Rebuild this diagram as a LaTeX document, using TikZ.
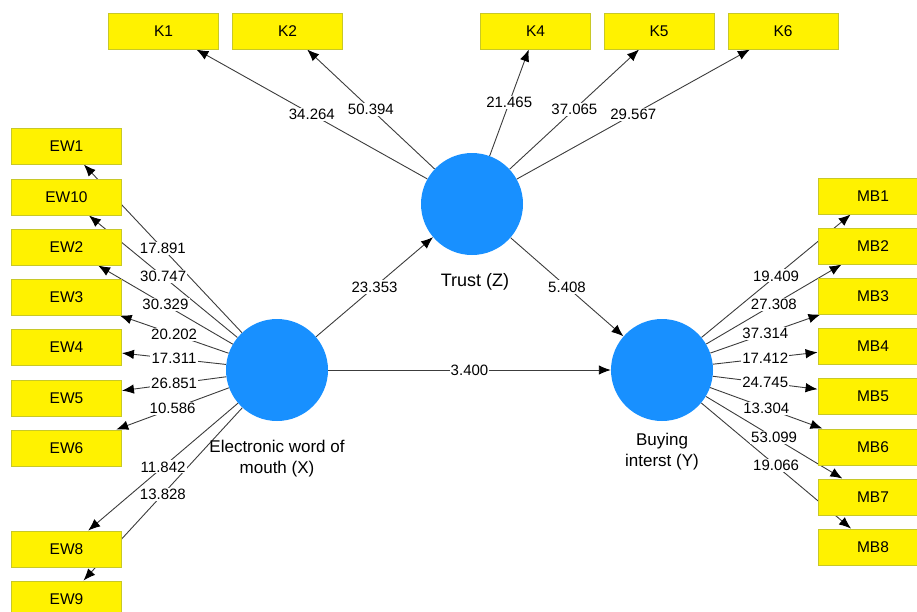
\documentclass[tikz,border=0pt]{standalone}
\usepackage{fontspec}
\setmainfont{Liberation Sans}
\usetikzlibrary{arrows.meta}
\pgfdeclarelayer{bg}
\pgfsetlayers{bg,main}
\definecolor{latent}{RGB}{24,144,255}
\definecolor{boxline}{RGB}{200,200,40}
\definecolor{edgeline}{RGB}{60,60,60}
\tikzset{
  indbox/.style={rectangle, draw=boxline, line width=0.9pt, fill=yellow, minimum width=110pt, minimum height=36pt, inner sep=0pt, font=\fontsize{15.5}{18}\selectfont},
  latentnode/.style={circle, fill=latent, minimum size=102pt, inner sep=0pt},
  lvlabel/.style={font=\fontsize{17}{21}\selectfont, align=center},
  arr/.style={draw=edgeline, line width=0.9pt, -{Latex[length=12pt,width=9.5pt,color=black]}},
  wlabel/.style={fill=white, inner sep=1.2pt, font=\fontsize{15}{18}\selectfont}
}
\newcommand\pathlink[3]{%
  \begin{pgfonlayer}{bg}\draw[arr] (#1) -- (#2);\end{pgfonlayer}
  \path (#1) -- node[wlabel] {#3} (#2);}
\begin{document}
\begin{tikzpicture}[x=1pt,y=-1pt]
\useasboundingbox (0,0) rectangle (917,611);
\clip (0,0) rectangle (917,611);
% latent variables
\node[latentnode] (X) at (277,370) {};
\node[latentnode] (Z) at (472,204) {};
\node[latentnode] (Y) at (662,370) {};
\node[lvlabel] (Xl) at (277,459) {Electronic word of\\mouth (X)};
\node[lvlabel, font=\fontsize{18}{21}\selectfont] (Zl) at (475,282) {Trust (Z)};
\node[lvlabel] (Yl) at (662,452) {Buying\\interst (Y)};
% indicators
\node[indbox] (EW1) at (66.5,146) {EW1};
\node[indbox] (EW10) at (66.5,197) {EW10};
\node[indbox] (EW2) at (66.5,247) {EW2};
\node[indbox] (EW3) at (66.5,297) {EW3};
\node[indbox] (EW4) at (66.5,347) {EW4};
\node[indbox] (EW5) at (66.5,398) {EW5};
\node[indbox] (EW6) at (66.5,448) {EW6};
\node[indbox] (EW8) at (66.5,549) {EW8};
\node[indbox] (EW9) at (66.5,599) {EW9};
\node[indbox] (K1) at (163.5,31) {K1};
\node[indbox] (K2) at (287.5,31) {K2};
\node[indbox] (K4) at (535.5,31) {K4};
\node[indbox] (K5) at (659,31) {K5};
\node[indbox] (K6) at (783,31) {K6};
\node[indbox] (MB1) at (873,196) {MB1};
\node[indbox] (MB2) at (873,246) {MB2};
\node[indbox] (MB3) at (873,296) {MB3};
\node[indbox] (MB4) at (873,346) {MB4};
\node[indbox] (MB5) at (873,396) {MB5};
\node[indbox] (MB6) at (873,447) {MB6};
\node[indbox] (MB7) at (873,497) {MB7};
\node[indbox] (MB8) at (873,547) {MB8};
% outer loadings
\pathlink{X}{EW1}{17.891}
\pathlink{X}{EW10}{30.747}
\pathlink{X}{EW2}{30.329}
\pathlink{X}{EW3}{20.202}
\pathlink{X}{EW4}{17.311}
\pathlink{X}{EW5}{26.851}
\pathlink{X}{EW6}{10.586}
\pathlink{X}{EW8}{11.842}
\pathlink{X}{EW9}{13.828}
\pathlink{Z}{K1}{34.264}
\pathlink{Z}{K2}{50.394}
\pathlink{Z}{K4}{21.465}
\pathlink{Z}{K5}{37.065}
\pathlink{Z}{K6}{29.567}
\pathlink{Y}{MB1}{19.409}
\pathlink{Y}{MB2}{27.308}
\pathlink{Y}{MB3}{37.314}
\pathlink{Y}{MB4}{17.412}
\pathlink{Y}{MB5}{24.745}
\pathlink{Y}{MB6}{13.304}
\pathlink{Y}{MB7}{53.099}
\pathlink{Y}{MB8}{19.066}
% structural paths
\pathlink{X}{Z}{23.353}
\pathlink{Z}{Y}{5.408}
\pathlink{X}{Y}{3.400}
\end{tikzpicture}
\end{document}
